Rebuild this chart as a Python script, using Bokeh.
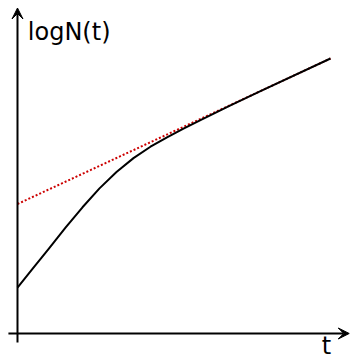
from bokeh.plotting import figure
from bokeh.models import Arrow, VeeHead, Range1d
from bokeh.core.properties import value
from bokeh.embed import file_html
from bokeh.resources import INLINE

# growth curve log N(t)
t_vals = [0.0, 0.479, 0.990, 1.534, 2.077, 2.620, 3.163, 3.706, 4.249, 4.792,
          5.304, 5.847, 6.805, 7.764, 10.0]
logn_vals = [1.469, 2.066, 2.696, 3.380, 4.033, 4.636, 5.160, 5.604, 5.968, 6.276,
             6.545, 6.817, 7.288, 7.746, 8.786]

# asymptotic straight line
line_t = [0.0, 10.0]
line_logn = [4.137, 8.786]

p = figure(width=350, height=357, output_backend="svg", toolbar_location=None,
           x_range=Range1d(-0.543, 10.64), y_range=Range1d(-0.767, 10.64),
           min_border=0)
p.axis.visible = False
p.grid.visible = False
p.outline_line_color = None
p.background_fill_color = "white"

# axes with arrows
p.add_layout(Arrow(end=VeeHead(size=11, fill_color="black", line_color="black", line_width=1),
                   x_start=0, y_start=-0.29, x_end=0, y_end=10.4,
                   line_color="black", line_width=2))
p.add_layout(Arrow(end=VeeHead(size=11, fill_color="black", line_color="black", line_width=1),
                   x_start=-0.29, y_start=0, x_end=10.6, y_end=0,
                   line_color="black", line_width=2))

p.line(line_t, line_logn, line_color="#cc0000", line_width=2, line_dash="2 2")
p.line(t_vals, logn_vals, line_color="black", line_width=2, line_join="round")

p.text(x=[0.33], y=[9.62], text=["logN(t)"], text_font=value("DejaVu Sans"),
       text_font_size="24px", text_baseline="alphabetic", text_align="left", text_color="black")
p.text(x=[9.72], y=[-0.40], text=["t"], text_font=value("DejaVu Sans"),
       text_font_size="24px", text_baseline="alphabetic", text_align="left", text_color="black")

open("out.html", "w").write(file_html(p, INLINE))
